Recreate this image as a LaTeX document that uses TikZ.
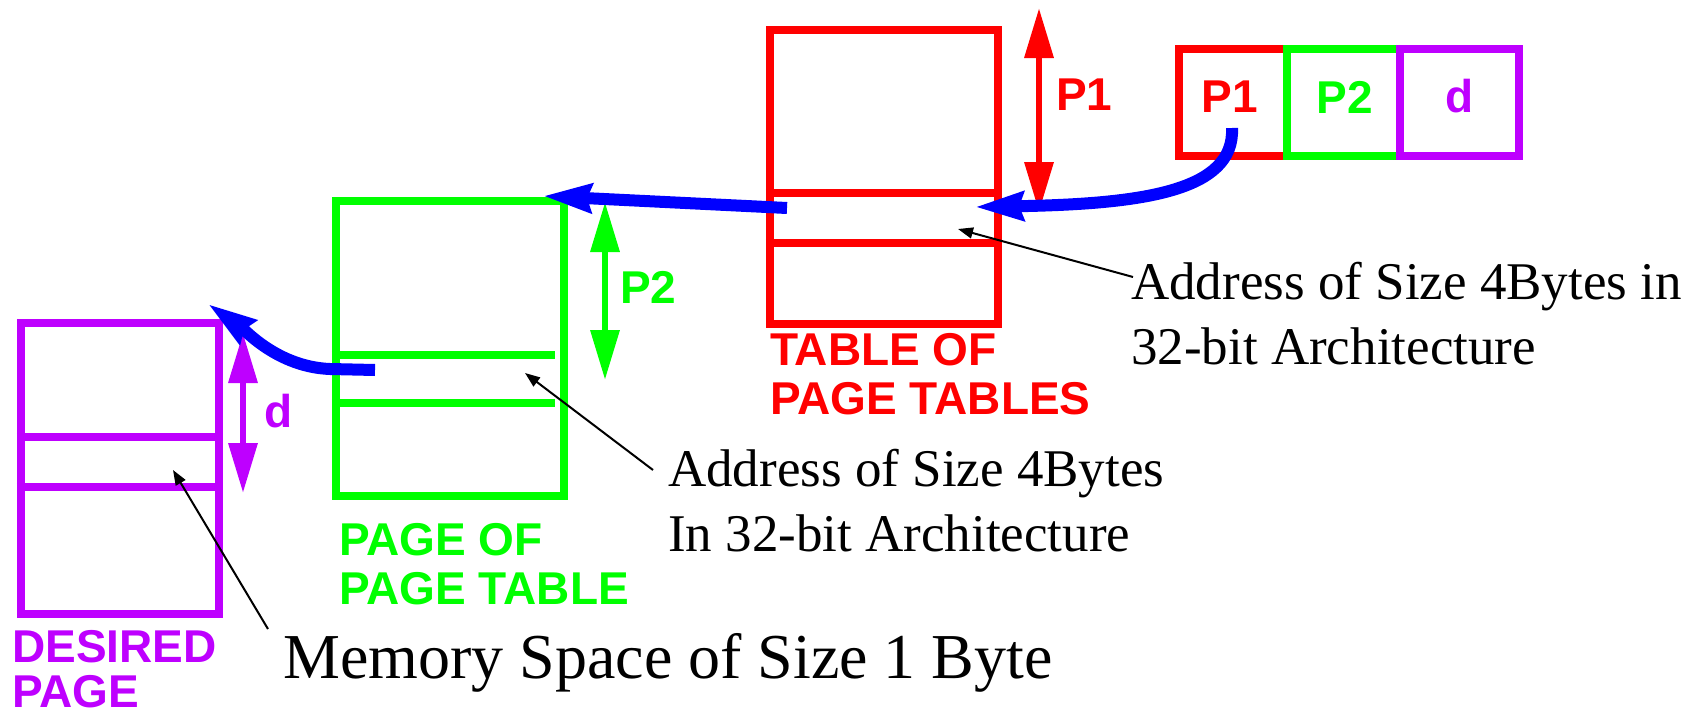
\documentclass[tikz,border=0pt]{standalone}
\usepackage{fontspec}
\setmainfont{Liberation Serif}
\newfontfamily\lsans{Liberation Sans}
\usetikzlibrary{arrows.meta}
\definecolor{pred}{RGB}{255,0,0}
\definecolor{pgreen}{RGB}{0,255,0}
\definecolor{ppurple}{RGB}{190,0,255}
\definecolor{pblue}{RGB}{0,0,255}
\tikzset{
  tbl/.style={draw=#1, line width=8.5pt, inner sep=0pt},
  divider/.style={draw=#1, line width=8.5pt},
  lbl/.style={text=#1, font=\lsans\bfseries\fontsize{46}{46}\selectfont, inner sep=0pt},
  title/.style={text=#1, font=\lsans\bfseries\fontsize{46}{49}\selectfont, inner sep=0pt, align=left, anchor=north west},
  note/.style={font=\fontsize{53}{65}\selectfont, inner sep=0pt, align=left, anchor=north west},
  dimarrow/.style={draw=#1, line width=6.5pt, {Triangle[length=50pt,width=28pt]}-{Triangle[length=50pt,width=28pt]}},
  ptr/.style={draw=pblue, line width=12pt, -{Stealth[length=48pt,width=28pt,inset=4pt]}},
  leader/.style={draw=black, line width=2pt, -{Triangle[length=15pt,width=11pt]}}
}
\begin{document}
\begin{tikzpicture}[x=1pt,y=-1pt]
\clip (0,0) rectangle (1706,712);
\fill[white] (0,0) rectangle (1706,712);

% tables
\node[tbl=ppurple, minimum width=198pt, minimum height=291pt] (dp) at (120,468.5) {};
\node[tbl=pgreen, minimum width=228pt, minimum height=295pt] (popt) at (450,348.5) {};
\node[tbl=pred, minimum width=228pt, minimum height=294pt] (topt) at (884,177) {};

\draw[divider=ppurple] (dp.west |- 0,437) -- (dp.east |- 0,437);
\draw[divider=ppurple] (dp.west |- 0,487) -- (dp.east |- 0,487);
\draw[divider=pgreen] (popt.west |- 0,355) -- (555,355);
\draw[divider=pgreen] (popt.west |- 0,403) -- (555,403);
\draw[divider=pred] (topt.west |- 0,193) -- (topt.east |- 0,193);
\draw[divider=pred] (topt.west |- 0,243) -- (topt.east |- 0,243);

% virtual address
\node[tbl=pred, minimum width=108pt, minimum height=107pt] (va1) at (1233,102.5) {};
\node[tbl=pgreen, minimum width=113pt, minimum height=107pt] (va2) at (1343.5,102.5) {};
\node[tbl=ppurple, minimum width=119pt, minimum height=107pt] (va3) at (1459.5,102.5) {};
\node[lbl=pred] (va1t) at (1230,97) {P1};
\node[lbl=pgreen] (va2t) at (1345,97) {P2};
\node[lbl=ppurple] (va3t) at (1460,96) {d};

% titles
\node[title=ppurple, font=\lsans\bfseries\fontsize{46}{45}\selectfont] (dpt) at (12,630) {DESIRED\\PAGE};
\node[title=pgreen] (poptt) at (339,523) {PAGE OF\\PAGE TABLE};
\node[title=pred] (toptt) at (770,333) {TABLE OF\\PAGE TABLES};

% dimension arrows
\coordinate (d1a) at (1039,8); \coordinate (d1b) at (1039,212);
\coordinate (d2a) at (605,202); \coordinate (d2b) at (605,380);
\coordinate (d3a) at (243,333); \coordinate (d3b) at (243,493);
\draw[dimarrow=pred] (d1a) -- (d1b);
\draw[dimarrow=pgreen] (d2a) -- (d2b);
\draw[dimarrow=ppurple] (d3a) -- (d3b);
\node[lbl=pred, anchor=west] (p1l) at (1056,95) {P1};
\node[lbl=pgreen, anchor=west] (p2l) at (620,287) {P2};
\node[lbl=ppurple, anchor=west] (dl) at (264,411) {d};

% blue pointers
\coordinate (b1s) at (1232,128); \coordinate (b1e) at (975,207);
\coordinate (b2s) at (787,208); \coordinate (b2e) at (543,196);
\coordinate (b3s) at (375,370); \coordinate (b3e) at (208,304);
\draw[ptr] (b1s) .. controls (1235,192) and (1140,204) .. (b1e);
\draw[ptr] (b2s) -- (b2e);
\draw[ptr] (b3s) -- (330,369) .. controls (278,367) and (245,330) .. (b3e);

% notes
\node[note] (n1) at (1131,262) {Address of Size 4Bytes in\\32-bit Architecture};
\node[note] (n2) at (668,449) {Address of Size 4Bytes\\In 32-bit Architecture};
\node[note, font=\fontsize{64}{70}\selectfont] (n3) at (283,633) {Memory Space of Size 1 Byte};

\coordinate (l1s) at (1133,277); \coordinate (l1e) at (958,229);
\coordinate (l2s) at (653,470); \coordinate (l2e) at (525,373);
\coordinate (l3s) at (268,629); \coordinate (l3e) at (173,470);
\draw[leader] (l1s) -- (l1e);
\draw[leader] (l2s) -- (l2e);
\draw[leader] (l3s) -- (l3e);
\end{tikzpicture}
\end{document}
